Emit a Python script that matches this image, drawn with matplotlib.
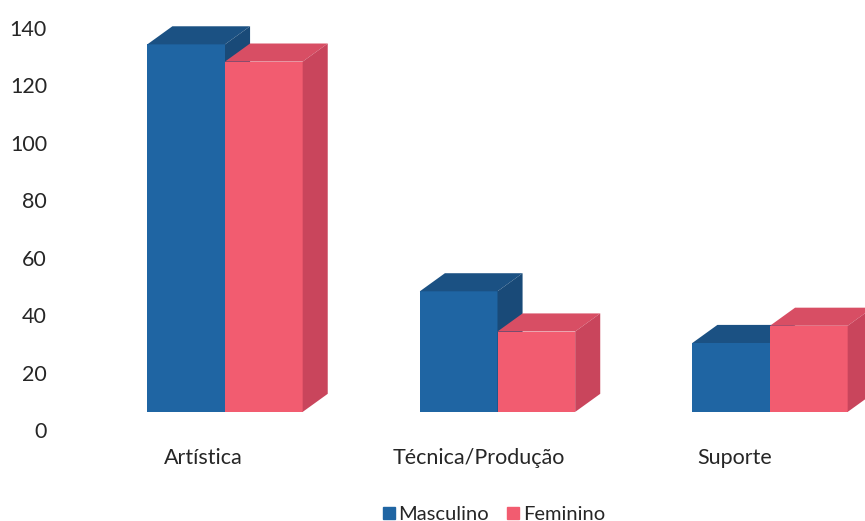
import numpy as np
import matplotlib
matplotlib.use("Agg")
import matplotlib.pyplot as plt
from matplotlib.patches import Polygon
from matplotlib.lines import Line2D

plt.rcParams["font.family"] = ["Lato", "DejaVu Sans"]

# ── data ───────────────────────────────────────────────────────────────────────
categories = ["Artística", "Técnica/Produção", "Suporte"]
masculino  = [128, 42, 24]
feminino   = [122, 28, 30]
yticks     = [0, 20, 40, 60, 80, 100, 120, 140]

# ── style ──────────────────────────────────────────────────────────────────────
BLUE  = {"front": "#1f65a3", "top": "#1b5183", "side": "#194a78"}
PINK  = {"front": "#f25c70", "top": "#d84e64", "side": "#c9455c"}
BAR_W = 0.285     # x units
DX    = 0.092     # depth offset, x units
DY    = 6.3       # depth offset, y units (also gap from floor front edge)
TXT   = "#262626"

W, H = 865, 521
fig = plt.figure(figsize=(W / 100, H / 100), dpi=100)
ax_left, ax_right, ax_bot, ax_top = 90, 865, 430, 28
ax = fig.add_axes([ax_left / W, (H - ax_bot) / H,
                   (ax_right - ax_left) / W, (ax_bot - ax_top) / H])

px_per_unit = 272.5
x0 = -(225 - ax_left) / px_per_unit
ax.set_xlim(x0, x0 + (ax_right - ax_left) / px_per_unit)
ax.set_ylim(0, 140)


def box(ax, xl, val, col):
    xr, yb, yt = xl + BAR_W, DY, DY + val
    ax.add_patch(Polygon([(xl, yb), (xr, yb), (xr, yt), (xl, yt)],
                         closed=True, fc=col["front"], ec="none", clip_on=False))
    ax.add_patch(Polygon([(xl, yt), (xl + DX, yt + DY), (xr + DX, yt + DY), (xr, yt)],
                         closed=True, fc=col["top"], ec="none", clip_on=False))
    ax.add_patch(Polygon([(xr, yb), (xr + DX, yb + DY), (xr + DX, yt + DY), (xr, yt)],
                         closed=True, fc=col["side"], ec="none", clip_on=False))


for i, (m, f) in enumerate(zip(masculino, feminino)):
    box(ax, i - BAR_W, m, BLUE)
    box(ax, i, f, PINK)

for s in ax.spines.values():
    s.set_visible(False)

ax.set_yticks(yticks)
ax.set_yticklabels([str(v) for v in yticks])
ax.tick_params(axis="y", length=0, pad=31, labelsize=15.5, labelcolor=TXT)

ax.set_xticks(np.arange(len(categories)) - np.array([0.08, 0.07, 0.13]))
ax.set_xticklabels(categories)
ax.tick_params(axis="x", length=0, pad=13, labelsize=15.5, labelcolor=TXT)

handles = [Line2D([], [], marker="s", ls="", ms=9, color=BLUE["front"]),
           Line2D([], [], marker="s", ls="", ms=9, color=PINK["front"])]
fig.legend(handles, ["Masculino", "Feminino"], loc="center",
           bbox_to_anchor=(491 / W, (H - 514) / H), ncol=2, frameon=False,
           fontsize=14.5, handletextpad=-0.1, columnspacing=0.6,
           handlelength=1.2, labelcolor=TXT)

fig.savefig("out.png", dpi=100)
